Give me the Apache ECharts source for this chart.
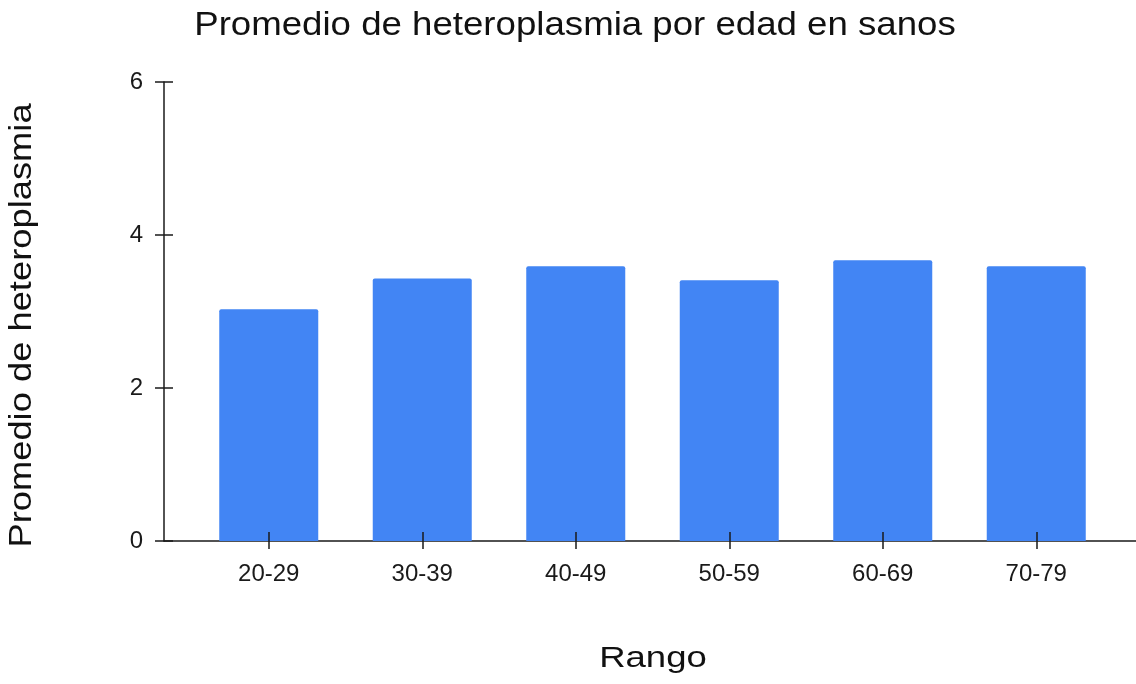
<!DOCTYPE html>
<html>
<head>
<meta charset="utf-8">
<script src="https://cdn.jsdelivr.net/npm/echarts@6/dist/echarts.min.js"></script>
<style>html,body{margin:0;padding:0;background:#fff}#c{width:1136px;height:684px}</style>
</head>
<body>
<div id="c"></div>
<script>
var titleText = 'Promedio de heteroplasmia por edad en sanos';
var xAxisTitle = 'Rango';
var yAxisTitle = 'Promedio de heteroplasmia';
var categories = ['20-29', '30-39', '40-49', '50-59', '60-69', '70-79'];
var values = [3.03, 3.43, 3.59, 3.41, 3.67, 3.59];
var yTicks = [0, 2, 4, 6];

var FONT = '"Liberation Sans", Arial, sans-serif';
var chart = echarts.init(document.getElementById('c'), null, {renderer: 'canvas'});
var yMin = yTicks[0], yMax = yTicks[yTicks.length - 1], yStep = yTicks[1] - yTicks[0];

chart.setOption({
  animation: false,
  backgroundColor: '#ffffff',
  grid: [
    {left: 164, right: 0, top: 82, bottom: 143},
    {left: 192, right: 23, top: 82, bottom: 143}
  ],
  xAxis: [
    {type: 'value', gridIndex: 0, position: 'bottom', min: 0, max: 1,
     axisLine: {show: true, lineStyle: {color: '#1a1a1a', width: 1.5}},
     axisTick: {show: false}, axisLabel: {show: false}, splitLine: {show: false}},
    {type: 'category', gridIndex: 1, position: 'bottom', data: categories, boundaryGap: true,
     axisLine: {show: false},
     axisTick: {show: true, alignWithLabel: true, inside: false, length: 8, lineStyle: {color: '#1a1a1a', width: 1.5}},
     axisLabel: {show: true, fontSize: 24, fontFamily: FONT, color: '#1a1a1a', margin: 21},
     splitLine: {show: false}, z: 10},
    {type: 'category', gridIndex: 1, position: 'bottom', data: categories, boundaryGap: true,
     axisLine: {show: false},
     axisTick: {show: true, alignWithLabel: true, inside: true, length: 9, lineStyle: {color: '#1a1a1a', width: 1.5}},
     axisLabel: {show: false}, splitLine: {show: false}, z: 10}
  ],
  yAxis: [
    {type: 'value', gridIndex: 0, position: 'left', min: yMin, max: yMax, interval: yStep,
     axisLine: {show: true, lineStyle: {color: '#1a1a1a', width: 1.5}},
     axisTick: {show: true, inside: false, length: 9, lineStyle: {color: '#1a1a1a', width: 1.5}},
     axisLabel: {show: true, fontSize: 24, fontFamily: FONT, color: '#1a1a1a', margin: 21},
     splitLine: {show: false}},
    {type: 'value', gridIndex: 0, position: 'left', min: yMin, max: yMax, interval: yStep,
     axisLine: {show: false},
     axisTick: {show: true, inside: true, length: 9, lineStyle: {color: '#1a1a1a', width: 1.5}},
     axisLabel: {show: false}, splitLine: {show: false}},
    {type: 'value', gridIndex: 1, position: 'left', min: yMin, max: yMax, interval: yStep, show: false}
  ],
  series: [{
    type: 'bar',
    xAxisIndex: 1,
    yAxisIndex: 2,
    data: values,
    barWidth: 99,
    itemStyle: {color: '#4285F4', borderRadius: [2, 2, 0, 0]},
    z: 2
  }],
  graphic: [
    {type: 'text', x: 575, y: 26, scaleX: 1.11,
     style: {text: titleText, font: '33px ' + FONT, fill: '#111',
              align: 'center', verticalAlign: 'middle', textAlign: 'center', textVerticalAlign: 'middle'}},
    {type: 'text', x: 653, y: 659, scaleX: 1.26,
     style: {text: xAxisTitle, font: '29px ' + FONT, fill: '#111',
              align: 'center', verticalAlign: 'middle', textAlign: 'center', textVerticalAlign: 'middle'}},
    {type: 'text', x: 22, y: 325.5, rotation: Math.PI / 2, scaleX: 1.135,
     style: {text: yAxisTitle, font: '32px ' + FONT, fill: '#111',
              align: 'center', verticalAlign: 'middle', textAlign: 'center', textVerticalAlign: 'middle'}}
  ]
});
</script>
</body>
</html>
